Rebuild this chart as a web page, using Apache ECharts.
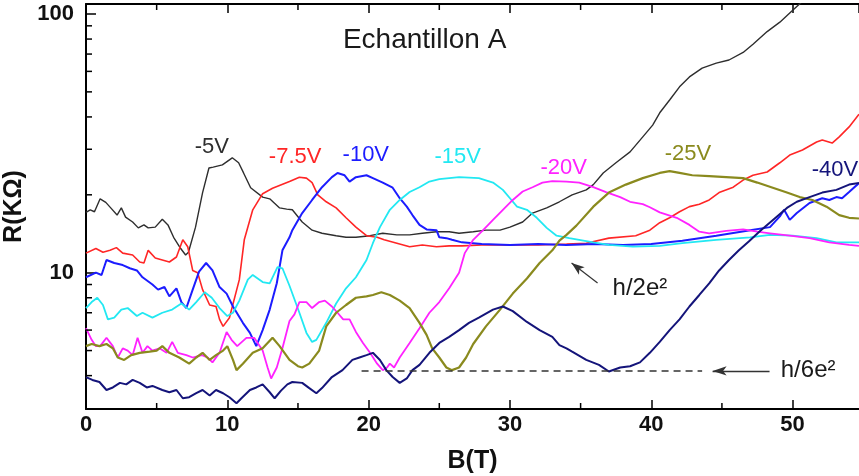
<!DOCTYPE html>
<html><head><meta charset="utf-8">
<script src="https://cdn.jsdelivr.net/npm/echarts@6.0.0/dist/echarts.min.js"></script>
<style>html,body{margin:0;padding:0;background:#fff}#c{width:859px;height:476px}</style>
</head><body><div id="c"></div>
<script>
const FONT = '"Liberation Sans", Arial, Helvetica, sans-serif';
const xMin = 0, xMax = 54.7, xInterval = 10;
const yMin = 2.972, yMax = 109.3;
const xMinorTicks = [5, 15, 25, 35, 45];
const yMinorTicks = [4, 5, 6, 7, 8, 9, 20, 30, 40, 50, 60, 70, 80, 90];
const yTickLabels = [10, 100];
const seriesNames = ['-5V', '-7.5V', '-10V', '-15V', '-20V', '-25V', '-40V'];
const seriesColors = ['#2e2e2e', '#ff2626', '#1c1cff', '#22e8f2', '#ff22ff', '#8a8a1e', '#14147a'];

const bk = [[0,17.1],[0.3,17.5],[0.6,17.2],[1.0,19.3],[1.4,18.7],[1.75,17.8],[2.2,16.7],[2.5,17.8],[2.8,16.4],[3.3,15.7],[3.7,14.9],[4.1,15.3],[4.4,14.9],[4.9,15.0],[5.4,16.1],[5.8,15.3],[6.2,13.7],[6.7,12.4],[7.05,11.7],[7.25,12.0],[7.75,15.0],[8.25,20.4],[8.7,25.4],[9.0,25.6],[9.65,26.1],[10.35,27.8],[10.8,26.6],[11.15,24.3],[11.65,21.3],[12.5,19.6],[13.0,19.3],[13.7,17.8],[14.2,17.6],[14.6,17.5],[15.3,15.7],[16.0,14.6],[16.7,14.2],[17.7,13.9],[18.4,13.7],[19.1,13.7],[20.1,13.9],[21.0,14.2],[22.0,14.0],[22.9,14.0],[23.8,14.2],[24.8,14.4],[25.7,14.4],[26.4,14.2],[27.4,14.4],[28.3,14.6],[29.3,14.6],[30.0,15.0],[30.9,15.7],[31.6,17.0],[32.6,17.8],[33.5,18.8],[34.4,20.0],[35.4,20.9],[35.9,21.9],[36.6,24.3],[37.5,26.6],[38.5,29.3],[39.4,33.5],[40.1,37.2],[40.6,41.5],[41.3,46.5],[42.0,52.3],[42.7,57.1],[43.6,61.8],[44.6,64.6],[45.5,66.4],[46.5,71.0],[47.2,76.4],[48.2,85.5],[49.1,93.0],[49.8,100.9],[50.7,112]];
const rd = [[0,11.9],[0.7,12.4],[1.2,12.0],[1.7,12.2],[2.15,12.5],[2.6,11.9],[3.3,11.7],[3.8,11.0],[4.1,10.9],[4.4,12.2],[4.9,11.4],[5.4,11.2],[5.9,11.0],[6.4,11.5],[6.85,13.4],[7.2,12.6],[7.55,10.2],[7.9,10.0],[8.25,8.6],[8.75,7.5],[9.2,7.4],[9.45,6.6],[9.7,6.2],[10.15,6.7],[10.85,9.4],[11.2,13.4],[11.8,17.5],[12.5,20.2],[13.2,21.2],[14.4,22.5],[15.1,23.4],[15.6,23.2],[16.0,22.3],[16.4,20.0],[17.0,18.8],[17.7,17.8],[18.4,16.3],[19.1,15.0],[19.85,13.9],[20.6,13.7],[21.1,13.4],[22.0,13.0],[22.9,12.6],[23.8,12.8],[24.8,12.6],[25.7,12.7],[26.6,12.7],[28,12.8],[30,12.8],[32,12.8],[34,12.9],[35.4,13.0],[37.0,13.6],[38.9,13.9],[39.9,14.6],[40.6,15.6],[41.3,16.3],[42.0,17.2],[42.7,18.0],[43.4,18.4],[44.1,19.1],[44.8,20.4],[45.8,21.4],[46.5,22.8],[47.2,23.8],[48.2,24.5],[49.1,26.6],[49.8,28.5],[50.7,29.8],[51.7,32.0],[52.1,32.6],[52.8,31.7],[53.3,33.5],[54.0,36.6],[54.7,41]];
const bl = [[0,9.6],[0.7,10.0],[1.1,9.8],[1.45,11.2],[2.0,10.9],[2.6,10.7],[3.1,10.4],[3.6,10.2],[4.0,9.6],[4.7,9.0],[5.1,8.6],[5.55,8.8],[5.9,8.1],[6.4,8.7],[6.75,7.7],[7.1,7.3],[7.55,8.6],[8.0,10.1],[8.5,10.9],[8.95,10.2],[9.45,8.8],[9.95,8.3],[10.4,7.4],[11.1,6.4],[11.6,5.85],[12.05,5.2],[12.5,6.0],[13.0,7.2],[13.5,9.1],[13.9,12.2],[14.4,13.7],[14.6,14.6],[15.3,17.0],[16.0,19.1],[16.7,21.4],[17.4,23.4],[17.8,24.3],[18.3,23.8],[18.65,22.5],[19.1,23.4],[19.85,23.8],[20.3,23.2],[21.0,22.3],[21.7,21.3],[22.2,19.4],[22.7,18.0],[23.1,16.7],[23.6,15.3],[24.1,14.7],[24.8,14.6],[25.0,13.7],[25.5,13.6],[25.9,13.4],[26.6,13.1],[28,12.9],[30,12.8],[32,12.9],[34,12.8],[36,12.9],[38,12.8],[40,12.9],[42.2,13.3],[44.6,13.9],[47.0,14.6],[48.4,15.0],[49.1,16.5],[49.4,17.5],[49.8,16.0],[50.3,17.0],[51.2,18.6],[52.1,19.4],[52.6,19.1],[53.1,19.6],[53.5,19.4],[54.0,20.5],[54.7,22.2]];
const cy = [[0,7.3],[0.4,7.7],[0.8,8.0],[1.2,7.5],[1.55,6.6],[2.0,6.7],[2.5,7.2],[2.95,7.3],[3.6,6.8],[4.0,7.0],[4.7,6.7],[5.4,7.0],[6.1,7.2],[6.75,7.6],[7.3,7.2],[7.8,7.7],[8.4,8.4],[8.9,8.0],[9.45,7.3],[10.0,6.8],[10.4,7.0],[10.85,7.8],[11.45,9.4],[11.8,9.8],[12.5,9.2],[13.0,9.1],[13.55,10.5],[13.9,10.4],[14.4,8.9],[15.1,7.0],[15.6,5.85],[16.0,5.4],[16.3,5.5],[17.0,6.4],[17.7,7.6],[18.4,8.7],[19.1,9.6],[19.85,11.2],[20.3,13.0],[20.8,15.0],[21.5,17.5],[22.2,19.1],[22.9,20.5],[23.6,21.4],[24.3,22.5],[25.0,23.0],[25.7,23.2],[26.4,23.4],[27.8,23.2],[28.8,22.3],[29.5,20.9],[30.0,19.4],[30.5,18.0],[31.2,17.5],[31.9,16.3],[32.6,14.9],[33.3,13.9],[34.2,13.6],[35.9,13.1],[37.0,12.8],[38.7,12.6],[40.6,12.7],[42.2,13.0],[44.6,13.4],[47.0,13.7],[48.4,14.0],[50.0,13.9],[51.7,13.6],[53.1,13.1],[54.7,13.1]];
const mg = [[0,6.1],[0.4,5.5],[0.7,5.2],[1.0,5.2],[1.45,5.6],[1.9,5.2],[2.25,4.7],[2.6,5.1],[2.95,5.0],[3.3,4.8],[3.65,5.6],[4.0,4.9],[4.35,5.2],[4.7,5.0],[5.2,5.1],[5.7,4.9],[6.1,5.4],[6.5,4.9],[7.1,4.8],[7.55,4.7],[8.2,4.8],[8.6,4.7],[8.95,4.5],[9.45,4.9],[9.95,5.9],[10.3,5.5],[10.7,5.2],[11.35,5.6],[11.9,5.6],[12.5,5.0],[12.85,4.3],[13.1,3.9],[13.5,4.3],[13.9,5.1],[14.4,6.5],[14.75,6.9],[15.1,7.7],[15.6,7.7],[16.0,7.3],[16.5,7.7],[16.9,7.8],[17.4,7.4],[17.8,7.0],[18.2,6.6],[18.65,6.6],[19.1,5.9],[19.6,5.35],[20.1,4.9],[20.6,4.45],[21.0,4.2],[21.3,4.3],[21.5,4.45],[21.8,4.3],[22.2,4.7],[22.9,5.35],[23.6,6.1],[24.3,7.0],[25.0,7.7],[25.7,8.7],[26.4,10.0],[26.8,11.9],[27.4,13.4],[28.1,14.6],[28.8,16.0],[29.5,17.5],[30.2,19.1],[30.9,20.6],[31.6,21.4],[32.3,22.3],[33.0,22.6],[34.0,22.5],[34.9,22.3],[35.9,21.4],[36.8,20.5],[37.8,19.6],[38.5,18.8],[39.4,18.4],[39.9,17.9],[40.6,17.1],[41.8,16.3],[42.7,15.3],[43.4,14.4],[44.1,14.2],[45.3,14.5],[46.5,14.7],[47.5,14.4],[48.4,14.2],[49.8,13.9],[51.2,13.6],[52.6,13.1],[54.0,12.8],[54.7,12.7]];
const ol = [[0,5.2],[0.4,5.3],[0.95,5.2],[1.45,5.3],[1.9,5.1],[2.25,4.7],[2.7,4.6],[3.2,4.8],[3.8,4.9],[4.5,4.95],[5.0,5.0],[5.4,5.2],[5.9,4.9],[6.6,4.7],[7.3,4.45],[7.8,4.7],[8.25,4.9],[8.75,4.6],[9.2,4.8],[9.7,5.0],[10.0,5.2],[10.4,4.6],[10.65,4.2],[11.1,4.45],[11.8,4.9],[12.5,5.1],[13.2,5.6],[13.7,5.2],[14.4,4.6],[15.0,4.35],[15.3,4.3],[15.8,4.45],[16.5,5.0],[17.0,6.2],[17.7,7.0],[18.4,7.5],[19.1,8.0],[19.85,8.1],[20.3,8.2],[20.9,8.4],[21.5,8.2],[22.2,7.8],[22.9,7.3],[23.6,6.4],[24.1,5.75],[24.5,5.1],[25.0,4.7],[25.5,4.3],[25.9,4.2],[26.4,4.3],[26.9,4.7],[27.4,5.3],[28.3,6.2],[29.3,7.2],[30.2,8.3],[31.2,9.5],[32.1,10.9],[33.0,12.2],[33.5,13.3],[34.0,14.0],[34.7,15.2],[35.9,18.0],[37.0,20.4],[38.2,21.9],[39.4,23.2],[40.6,24.3],[41.3,24.7],[42.0,24.3],[42.9,23.8],[44.1,23.6],[45.3,23.4],[46.5,23.2],[47.5,22.3],[48.6,21.3],[49.6,20.4],[50.5,19.6],[51.4,19.1],[52.4,18.0],[53.3,16.7],[54.0,16.3],[54.7,16.2]];
const nv = [[0,3.95],[0.45,3.85],[0.95,3.78],[1.45,3.52],[1.9,3.6],[2.4,3.75],[2.85,3.7],[3.3,3.85],[3.8,3.75],[4.3,3.6],[4.7,3.65],[5.4,3.52],[5.9,3.45],[6.4,3.52],[6.85,3.27],[7.3,3.3],[7.8,3.42],[8.25,3.52],[8.75,3.35],[9.2,3.52],[9.7,3.42],[10.15,3.3],[10.65,3.13],[11.0,3.27],[11.6,3.52],[12.05,3.6],[12.5,3.7],[13.0,3.45],[13.35,3.27],[13.8,3.5],[14.25,3.7],[14.6,3.78],[15.3,3.75],[15.8,3.58],[16.3,3.42],[16.7,3.58],[17.4,3.95],[18.15,4.2],[18.85,4.6],[19.35,4.7],[19.85,4.8],[20.3,4.9],[20.8,4.6],[21.25,4.2],[21.7,3.95],[22.2,3.75],[22.7,3.9],[23.1,4.2],[23.6,4.4],[24.3,4.9],[25.0,5.35],[25.7,5.65],[26.4,6.0],[27.1,6.4],[27.8,6.7],[28.8,7.2],[29.5,7.4],[30.2,7.1],[31.2,6.45],[32.1,6.0],[33.0,5.65],[33.5,5.25],[34.0,5.1],[34.4,4.95],[35.4,4.6],[36.3,4.4],[37.0,4.15],[37.8,4.3],[38.5,4.35],[39.2,4.5],[39.9,4.9],[40.6,5.4],[41.3,6.0],[42.0,6.6],[42.7,7.4],[43.4,8.2],[44.1,9.1],[44.8,10.2],[45.5,11.2],[46.2,12.2],[46.9,13.2],[47.7,14.5],[48.9,16.5],[49.6,17.8],[50.3,18.8],[51.2,19.6],[52.1,20.4],[53.1,20.9],[54.0,21.9],[54.7,22.2]];
const curves = [bk, rd, bl, cy, mg, ol, nv];
const lineWidths = [1.4, 1.6, 2.0, 1.8, 1.8, 2.2, 2.0];

// curve labels: text, B, R
const curveLabelPos = [[8.9,30.6],[14.8,28.0],[19.8,28.5],[26.3,28.0],[33.8,25.4],[42.6,28.8],[53.0,24.9]];
const titleText = 'Echantillon A', titlePos = [23.96, 79];
const h2Text = 'h/2e\u00B2', h2Pos = [39.2, 8.73];
const h6Text = 'h/6e\u00B2', h6Pos = [51.1, 4.19];
const h6Level = 4.17, h6LineFrom = 19.5, h6LineTo = 43.6;
const h6Arrow = [[48.37, 4.17], [44.34, 4.17]];
const h2Arrow = [[36.2, 9.12], [34.36, 10.9]];

const annos = [];
seriesNames.forEach((n, i) => annos.push({text: n, pos: curveLabelPos[i], color: seriesColors[i], size: 22, weight: 'normal'}));
annos.push({text: titleText, pos: titlePos, color: '#1a1a1a', size: 28, weight: 'normal'});
annos.push({text: h2Text, pos: h2Pos, color: '#1a1a1a', size: 24, weight: 'normal'});
annos.push({text: h6Text, pos: h6Pos, color: '#1a1a1a', size: 24, weight: 'normal'});

const chart = echarts.init(document.getElementById('c'), null, {renderer: 'canvas'});
const axisLine = {show: true, lineStyle: {color: '#000', width: 2}};
const series = curves.map((d, i) => ({
  name: seriesNames[i], type: 'line', data: d, showSymbol: false, symbol: 'none',
  lineStyle: {color: seriesColors[i], width: lineWidths[i]}, clip: true, z: 3
}));
series.push({
  type: 'line', data: [], silent: true, z: 4,
  markLine: {
    silent: true, animation: false, label: {show: false},
    data: [
      [{coord: [h6LineFrom, h6Level], symbol: 'none', lineStyle: {type: [7, 5], color: '#333', width: 1.6}}, {coord: [h6LineTo, h6Level], symbol: 'none'}],
      [{coord: h6Arrow[0], symbol: 'none', lineStyle: {type: 'solid', color: '#333', width: 1.4}}, {coord: h6Arrow[1], symbol: 'arrow', symbolSize: [7, 14]}],
      [{coord: h2Arrow[0], symbol: 'none', lineStyle: {type: 'solid', color: '#333', width: 1.2}}, {coord: h2Arrow[1], symbol: 'arrow', symbolSize: [7, 13]}]
    ]
  }
});
series.push({
  type: 'custom', silent: true, z: 6,
  data: yMinorTicks.map(v => [xMin, v]),
  renderItem: (params, api) => {
    const p = api.coord([xMin, api.value(1)]);
    return {type: 'line', shape: {x1: p[0], y1: p[1], x2: p[0] + 6, y2: p[1]}, style: {stroke: '#000', lineWidth: 1.5}};
  }
});
series.push({
  type: 'custom', silent: true, z: 6,
  data: xMinorTicks.map(v => [v, yMin]),
  renderItem: (params, api) => {
    const b = api.coord([api.value(0), yMin]);
    const t = api.coord([api.value(0), yMax]);
    return {type: 'group', children: [
      {type: 'line', shape: {x1: b[0], y1: b[1], x2: b[0], y2: b[1] - 6}, style: {stroke: '#000', lineWidth: 1.5}},
      {type: 'line', shape: {x1: t[0], y1: t[1], x2: t[0], y2: t[1] + 6}, style: {stroke: '#000', lineWidth: 1.5}}
    ]};
  }
});
series.push({
  type: 'custom', silent: true, z: 7,
  data: annos.map(a => a.pos),
  renderItem: (params, api) => {
    const a = annos[params.dataIndex];
    const p = api.coord([api.value(0), api.value(1)]);
    return {type: 'text', x: p[0], y: p[1], style: {text: a.text, fill: a.color, fontSize: a.size, fontFamily: FONT, fontWeight: a.weight, align: 'center', verticalAlign: 'middle'}};
  }
});

chart.setOption({
  animation: false,
  backgroundColor: '#fff',
  grid: {left: 86, right: 0, top: 4, bottom: 67, containLabel: false, outerBoundsMode: 'none'},
  xAxis: [
    {type: 'value', position: 'bottom', min: xMin, max: xMax, interval: xInterval,
     axisLine: axisLine, axisTick: {show: true, inside: true, length: 9, lineStyle: {color: '#000', width: 1.5}},
     axisLabel: {show: true, color: '#111', fontSize: 22, fontWeight: 'bold', fontFamily: FONT, margin: 5, showMaxLabel: false},
     splitLine: {show: false},
     name: 'B(T)', nameLocation: 'middle', nameGap: 40,
     nameTextStyle: {color: '#111', fontSize: 25, fontWeight: 'bold', fontFamily: FONT}},
    {type: 'value', position: 'top', min: xMin, max: xMax, interval: xInterval,
     axisLine: axisLine, axisTick: {show: true, inside: true, length: 9, lineStyle: {color: '#000', width: 1.5}},
     axisLabel: {show: false}, splitLine: {show: false}}
  ],
  yAxis: [
    {type: 'log', logBase: 10, min: yMin, max: yMax, position: 'left',
     axisLine: axisLine, axisTick: {show: true, inside: true, length: 10, lineStyle: {color: '#000', width: 1.5}},
     axisLabel: {show: true, color: '#111', fontSize: 22, fontWeight: 'bold', fontFamily: FONT, margin: 12,
       formatter: v => yTickLabels.some(t => Math.abs(v - t) < 1e-6 * t) ? String(Math.round(v)) : ''},
     splitLine: {show: false},
     name: 'R(K\u03A9)', nameLocation: 'middle', nameGap: 52, nameRotate: 90,
     nameTextStyle: {color: '#111', fontSize: 25, fontWeight: 'bold', fontFamily: FONT}}
  ],
  series: series
});
</script></body></html>
